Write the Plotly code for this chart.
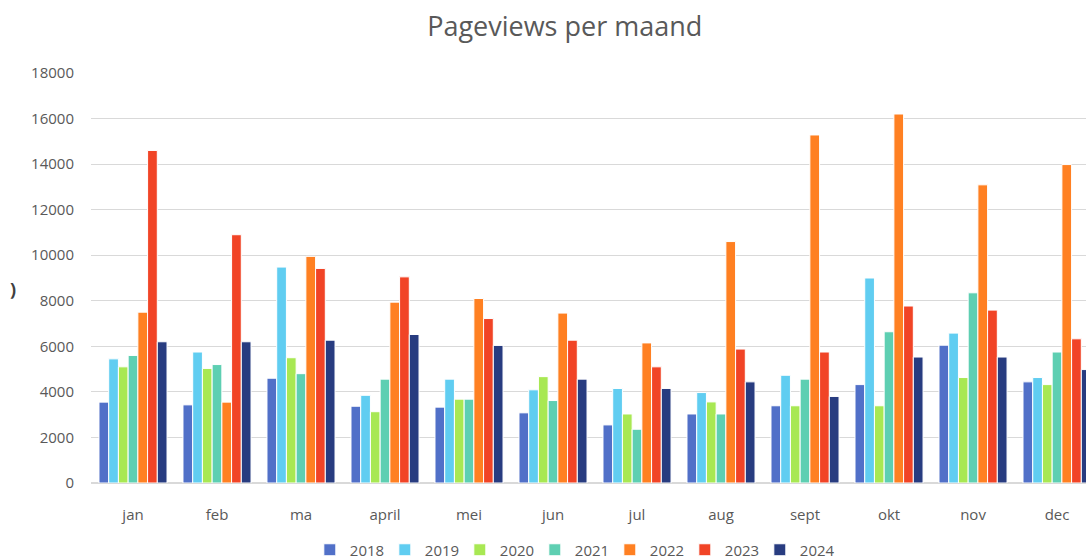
import plotly.graph_objects as go

months = ["jan", "feb", "ma", "april", "mei", "jun", "jul", "aug", "sept", "okt", "nov", "dec"]
years = ["2018", "2019", "2020", "2021", "2022", "2023", "2024"]

v2018 = [3550, 3430, 4600, 3370, 3330, 3080, 2550, 3030, 3390, 4320, 6050, 4440]
v2019 = [5450, 5750, 9480, 3850, 4560, 4090, 4150, 3970, 4730, 9000, 6580, 4630]
v2020 = [5100, 5030, 5500, 3130, 3680, 4670, 3030, 3560, 3390, 3390, 4630, 4320]
v2021 = [5600, 5200, 4800, 4560, 3680, 3620, 2360, 3030, 4560, 6640, 8350, 5750]
v2022 = [7500, 3550, 9950, 7940, 8100, 7460, 6150, 10600, 15280, 16200, 13090, 13980]
v2023 = [14600, 10900, 9420, 9050, 7220, 6270, 5100, 5880, 5750, 7770, 7590, 6330]
v2024 = [6200, 6200, 6270, 6520, 6040, 4560, 4150, 4440, 3800, 5530, 5530, 4980]

series = [v2018, v2019, v2020, v2021, v2022, v2023, v2024]
colors = ["#5170C8", "#60CDF1", "#A8E853", "#5ECFB2", "#FF8022", "#F14426", "#283C80"]

grey = "#595959"

fig = go.Figure()
for name, vals, col in zip(years, series, colors):
    fig.add_trace(go.Bar(x=months, y=vals, name=name,
                         marker=dict(color=col, line=dict(color="white", width=1))))

fig.update_layout(
    width=1086, height=560,
    margin=dict(l=91, r=0, t=73, b=77, autoexpand=False),
    paper_bgcolor="white", plot_bgcolor="white",
    font=dict(family="Open Sans", color=grey, size=15),
    barmode="group", bargap=0.19, bargroupgap=0,
    title=dict(text="Pageviews per maand", x=0.52, xref="container", xanchor="center",
               y=1 - 27 / 560, yref="container", yanchor="middle",
               font=dict(size=27, color=grey)),
    legend=dict(orientation="h", x=0.527, xref="container", xanchor="center",
                y=1 - 550 / 560, yref="container", yanchor="middle",
                font=dict(size=15, color=grey), itemwidth=30, tracegroupgap=0,
                entrywidth=30, entrywidthmode="pixels"),
    showlegend=True,
)
fig.update_yaxes(range=[0, 18000], dtick=2000, tickformat="d", gridcolor="#D9D9D9", gridwidth=1,
                 zeroline=True, zerolinecolor="#D9D9D9", showline=False, automargin=False,
                 tickfont=dict(size=15, color=grey), ticklabelstandoff=16)
fig.update_xaxes(range=[-0.5, 11.345], showline=True, linecolor="#D9D9D9", automargin=False,
                 tickfont=dict(size=15, color=grey), ticklabelstandoff=18, showgrid=False)

fig.add_annotation(text="<b>)</b>", x=(13 - 91) / 995, y=(483 - 289) / 410,
                   xref="paper", yref="paper", showarrow=False,
                   xanchor="center", yanchor="middle",
                   font=dict(size=18, color="#404040"))

# page has a default 8px body margin; remove it so the figure sits at 0,0
fig.write_html("out.html", config={"displayModeBar": False},
               post_script="document.body.style.margin='0';")
